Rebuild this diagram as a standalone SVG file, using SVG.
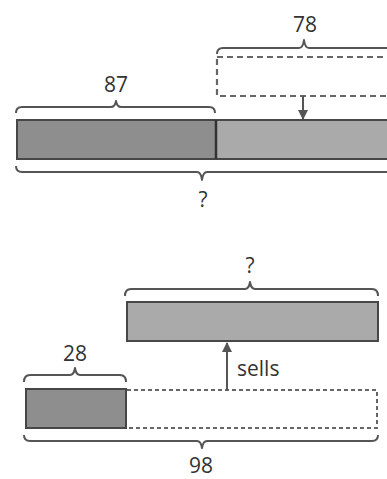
<svg xmlns="http://www.w3.org/2000/svg" width="387" height="479" viewBox="0 0 387 479">
<defs>
<style>
.lbl{font-family:"Open Sans","Liberation Sans",Arial,sans-serif;font-size:21px;fill:#333;text-anchor:middle}
.dark{fill:#8e8e8e;stroke:#474747;stroke-width:2}
.light{fill:#aaaaaa;stroke:#474747;stroke-width:2}
.dash{fill:none;stroke:#666;stroke-width:2.2;stroke-dasharray:6 4}
.dashs{fill:none;stroke:#666;stroke-width:2;stroke-dasharray:4 3}
.brace{fill:none;stroke:#555;stroke-width:2;stroke-linejoin:round}
.arr{stroke:#555;stroke-width:2;fill:none}
</style>
<marker id="ah" viewBox="0 0 10 10" refX="9" refY="5" markerWidth="5.5" markerHeight="5" orient="auto" markerUnits="strokeWidth">
<path d="M0,0 L10,5 L0,10 z" fill="#555"/>
</marker>
</defs>
<rect width="387" height="479" fill="#fff"/>

<g id="top-section">
<g id="bar-87"><rect class="dark" x="17" y="120" width="199" height="39"/></g>
<g id="bar-78"><rect class="light" x="216" y="120" width="190" height="39"/></g>
<line x1="216" y1="120" x2="216" y2="159" stroke="#333" stroke-width="2.5"/>
<g id="dashed-78"><rect class="dash" x="217" y="57" width="200" height="39"/></g>
<g id="brace-87"><path class="brace" d="M16,113 q0,-6 6,-6 H111 q4,0 5,-6 q1,6 5,6 H209 q6,0 6,6"/><text class="lbl" x="116" y="92">87</text></g>
<g id="brace-78"><path class="brace" d="M217,54 q0,-6 6,-6 H299 q4,0 5,-8 q1,8 5,8 H400"/><text class="lbl" x="305" y="32">78</text></g>
<g id="brace-total-top"><path class="brace" d="M16,166 q0,6 6,6 H197 q4,0 5,8 q1,-8 5,-8 H400"/><text class="lbl" x="203" y="207">?</text></g>
</g>

<g id="bottom-section">
<g id="bar-sold"><rect class="light" x="127" y="302" width="251" height="39"/></g>
<g id="bar-28"><rect class="dark" x="26" y="389" width="100" height="39"/></g>
<g id="dashed-rest"><path class="dashs" d="M127,390 H377 V428 H127"/></g>
<g id="brace-q"><path class="brace" d="M125,296 q0,-7 6,-7 H245 q4,0 5,-7 q1,7 5,7 H372 q6,0 6,7"/><text class="lbl" x="250" y="273">?</text></g>
<g id="brace-28"><path class="brace" d="M24,382 q0,-7 6,-7 H70 q4,0 5,-7 q1,7 5,7 H120 q6,0 6,7"/><text class="lbl" x="75" y="361">28</text></g>
<g id="brace-98"><path class="brace" d="M24,435 q0,6 6,6 H197 q4,0 5,7 q1,-7 5,-7 H372 q6,0 6,-6"/><text class="lbl" x="201" y="473">98</text></g>
<text class="lbl" x="237" y="376" style="text-anchor:start">sells</text>
</g>

<g id="connectors">
<line class="arr" x1="303" y1="96" x2="303" y2="119" marker-end="url(#ah)"/>
<line class="arr" x1="227" y1="390" x2="227" y2="343" marker-end="url(#ah)"/>
</g>
</svg>
